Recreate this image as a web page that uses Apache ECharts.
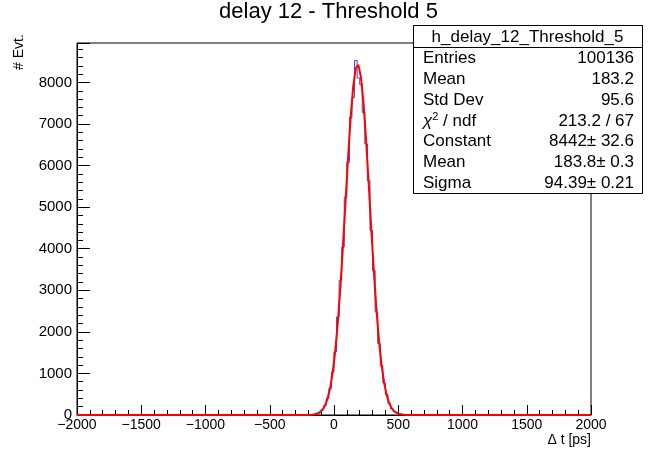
<!DOCTYPE html>
<html><head><meta charset="utf-8">
<script src="https://cdn.jsdelivr.net/npm/echarts@6/dist/echarts.min.js"></script>
<style>html,body{margin:0;padding:0;background:#fff}#c{width:657px;height:454px}</style>
</head><body><div id="c"></div>
<script>
// ---- data ----
const chartTitle = 'delay 12 - Threshold 5';
const histName = 'h_delay_12_Threshold_5';
const xMin = -2000, xMax = 2000, yMax = 8950;
const binWidth = 20;
// left edges of the non-empty bins (ps)
const binStarts = [-180,-160,-140,-120,-100,-80,-60,-40,-20,0,20,40,60,80,100,120,140,160,180,200,220,240,260,280,300,320,340,360,380,400,420,440,460,480,500,520,540];
// histogram counts per bin
const counts =    [4,15,31,64,122,231,398,640,1040,1520,2360,3240,4040,5240,6080,7160,7640,8530,8110,7950,7280,6520,5640,4440,3480,2480,1720,1190,770,490,275,150,82,41,20,9,4];
// gaussian fit curve (x in ps, y in counts)
const fitX = [-2000,-190,-170,-150,-130,-110,-90,-70,-50,-30,-10,10,30,50,70,90,110,130,150,170,190,210,230,250,270,290,310,330,350,370,390,410,430,450,470,490,510,530,550,570,2000];
const fitY = [0,3,8,17,34,66,126,227,393,649,1026,1550,2238,3092,4082,5152,6219,7177,7918,8352,8423,8123,7489,6602,5563,4484,3454,2544,1791,1206,776,478,281,158,85,44,22,10,4,2,0];
const statsLabels = ['Entries','Mean','Std Dev','{i|χ}{sup|2} / ndf','Constant','Mean','Sigma'];
const statsValues = ['100136','183.2','95.6','213.2 / 67','8442± 32.6','183.8± 0.3','94.39± 0.21'];

// ---- build series ----
const histData = [[xMin, 0]];
binStarts.forEach((s, i) => histData.push([s, counts[i]]));
histData.push([binStarts[binStarts.length - 1] + binWidth, 0]);
histData.push([xMax, 0]);
const fitData = fitX.map((x, i) => [x, fitY[i]]);

const FONT = 'Liberation Sans, Arial, Helvetica, sans-serif';
const chart = echarts.init(document.getElementById('c'), null, {renderer: 'canvas'});

// stats box graphics
const boxL = 413, boxR = 642, boxT = 25, boxB = 193, sepY = 47, rowY0 = 58.5, rowDY = 20.8;
const graphics = [
  {type: 'text', left: 'center', top: 1, style: {text: chartTitle, font: '22px ' + FONT, fill: '#000'}},
  {type: 'text', x: 12, y: 70, rotation: Math.PI / 2, style: {text: '# Evt.', font: '14px ' + FONT, fill: '#000', textAlign: 'left', textVerticalAlign: 'top'}},
  {type: 'text', x: 591, y: 433, style: {text: 'Δ t [ps]', font: '14px ' + FONT, fill: '#000', textAlign: 'right', textVerticalAlign: 'top'}},
  {type: 'rect', shape: {x: boxL + 0.5, y: boxT + 0.5, width: boxR - boxL, height: boxB - boxT}, style: {fill: '#fff', stroke: '#000', lineWidth: 1}, z: 100},
  {type: 'line', shape: {x1: boxL, y1: sepY + 0.5, x2: boxR, y2: sepY + 0.5}, style: {stroke: '#000', lineWidth: 1}, z: 101},
  {type: 'text', x: (boxL + boxR) / 2, y: (boxT + sepY) / 2 + 1, z: 101, style: {text: histName, font: '17px ' + FONT, fill: '#000', textAlign: 'center', textVerticalAlign: 'middle'}}
];
statsLabels.forEach((lab, i) => {
  graphics.push({type: 'text', x: 423, y: rowY0 + i * rowDY, z: 101, style: {
    text: lab, font: '17px ' + FONT, fill: '#000', textAlign: 'left', textVerticalAlign: 'middle',
    rich: {i: {font: 'italic 17px ' + FONT}, sup: {font: '11px ' + FONT, verticalAlign: 'top', padding: [0, 0, 8, 0]}}
  }});
  graphics.push({type: 'text', x: 634, y: rowY0 + i * rowDY, z: 101, style: {
    text: statsValues[i], font: '17px ' + FONT, fill: '#000', textAlign: 'right', textVerticalAlign: 'middle'}});
});

chart.setOption({
  animation: false,
  backgroundColor: '#fff',
  grid: {left: 77, right: 66, top: 43, bottom: 39, show: true, borderColor: '#000', borderWidth: 1, containLabel: false},
  xAxis: {
    type: 'value', min: xMin, max: xMax, interval: 500,
    axisLine: {show: true, onZero: false, lineStyle: {color: '#000', width: 1}},
    axisTick: {show: true, inside: true, length: 10, lineStyle: {color: '#000'}},
    minorTick: {show: true, splitNumber: 5, length: 5, lineStyle: {color: '#000'}},
    splitLine: {show: false},
    axisLabel: {color: '#000', fontFamily: FONT, fontSize: 14, margin: 3,
      formatter: v => String(v).replace('-', '\u2212')}
  },
  yAxis: {
    type: 'value', min: 0, max: yMax, interval: 1000,
    axisLine: {show: true, onZero: false, lineStyle: {color: '#000', width: 1}},
    axisTick: {show: true, inside: true, length: 13, lineStyle: {color: '#000'}},
    minorTick: {show: true, splitNumber: 5, length: 6, lineStyle: {color: '#000'}},
    splitLine: {show: false},
    axisLabel: {color: '#000', fontFamily: FONT, fontSize: 15, margin: 5, showMaxLabel: false,
      formatter: v => String(v)}
  },
  series: [
    {type: 'line', name: 'hist', data: histData, step: 'end', symbol: 'none',
     lineStyle: {color: '#4545c8', width: 1}, z: 2},
    {type: 'line', name: 'fit', data: fitData, symbol: 'none', smooth: false,
     lineStyle: {color: '#ff0000', width: 2}, z: 3}
  ],
  graphic: graphics
});
</script></body></html>
